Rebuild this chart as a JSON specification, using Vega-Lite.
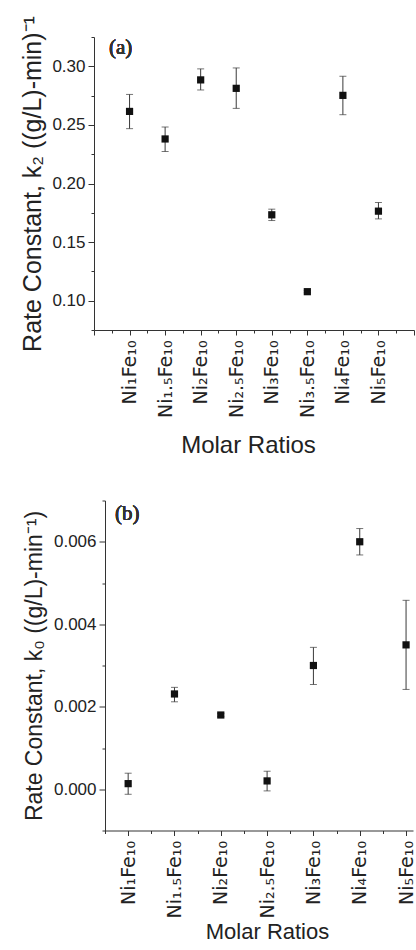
{
  "$schema": "https://vega.github.io/schema/vega-lite/v6.json",
  "padding": {"left": 20, "top": 15, "right": 0, "bottom": 0},
  "background": "white",
  "spacing": 41.5,
  "config": {
    "view": {"stroke": null},
    "axis": {
      "grid": false,
      "labelFont": "Liberation Sans",
      "titleFont": "Liberation Sans",
      "labelColor": "#222",
      "titleColor": "#222",
      "domainColor": "#333",
      "tickColor": "#333",
      "titleFontWeight": "normal",
      "labelFontSize": 17
    }
  },
  "datasets": {
    "k2": [
      {"ratio": 1, "sample": "Ni1Fe10", "k": 0.2615, "lo": 0.2468, "hi": 0.276},
      {"ratio": 2, "sample": "Ni1.5Fe10", "k": 0.238, "lo": 0.2273, "hi": 0.2482},
      {"ratio": 3, "sample": "Ni2Fe10", "k": 0.2884, "lo": 0.2798, "hi": 0.2978},
      {"ratio": 4, "sample": "Ni2.5Fe10", "k": 0.2812, "lo": 0.2641, "hi": 0.2986},
      {"ratio": 5, "sample": "Ni3Fe10", "k": 0.1733, "lo": 0.1684, "hi": 0.1781},
      {"ratio": 6, "sample": "Ni3.5Fe10", "k": 0.1077, "lo": 0.1068, "hi": 0.1086},
      {"ratio": 7, "sample": "Ni4Fe10", "k": 0.2752, "lo": 0.2587, "hi": 0.2915},
      {"ratio": 8, "sample": "Ni5Fe10", "k": 0.1764, "lo": 0.1698, "hi": 0.1838}
    ],
    "k0": [
      {"ratio": 1, "sample": "Ni1Fe10", "k": 0.000136, "lo": -0.000122, "hi": 0.000389},
      {"ratio": 2, "sample": "Ni1.5Fe10", "k": 0.00231, "lo": 0.00212, "hi": 0.00247},
      {"ratio": 3, "sample": "Ni2Fe10", "k": 0.0018, "lo": 0.00176, "hi": 0.00184},
      {"ratio": 4, "sample": "Ni2.5Fe10", "k": 0.000202, "lo": -0.00004, "hi": 0.000437},
      {"ratio": 5, "sample": "Ni3Fe10", "k": 0.003, "lo": 0.00254, "hi": 0.00344},
      {"ratio": 6, "sample": "Ni4Fe10", "k": 0.006, "lo": 0.00568, "hi": 0.00632},
      {"ratio": 7, "sample": "Ni5Fe10", "k": 0.0035, "lo": 0.00242, "hi": 0.00458}
    ]
  },
  "vconcat": [
    {
      "width": 309,
      "height": 293,
      "data": {"name": "k2"},
      "layer": [
        {
          "mark": {"type": "errorbar", "ticks": {"size": 7}, "color": "#3a3a3a", "thickness": 1},
          "encoding": {
            "x": {
              "field": "ratio", "type": "quantitative",
              "scale": {"domain": [0, 9], "range": [-11, 309], "nice": false},
              "axis": {"orient": "bottom", "values": [0.5, 1.5, 2.5, 3.5, 4.5, 5.5, 6.5, 7.5, 8.5], "labels": false, "domain": false, "tickSize": 3, "title": null}
            },
            "y": {
              "field": "lo", "type": "quantitative",
              "scale": {"domain": [0.075, 0.325], "zero": false, "nice": false},
              "axis": {"orient": "left", "values": [0.075, 0.125, 0.175, 0.225, 0.275, 0.325], "labels": false, "domain": false, "tickSize": 3, "title": null, "offset": 11}
            },
            "y2": {"field": "hi"}
          }
        },
        {
          "mark": {"type": "point", "shape": "square", "filled": true, "size": 52, "color": "#111", "opacity": 1},
          "encoding": {
            "x": {
              "field": "ratio", "type": "quantitative",
              "axis": {
                "orient": "bottom", "values": [0, 1, 2, 3, 4, 5, 6, 7, 8, 9],
                "labelExpr": "['', 'Ni₁Fe₁₀', 'Ni₁.₅Fe₁₀', 'Ni₂Fe₁₀', 'Ni₂.₅Fe₁₀', 'Ni₃Fe₁₀', 'Ni₃.₅Fe₁₀', 'Ni₄Fe₁₀', 'Ni₅Fe₁₀', ''][datum.value]",
                "labelAngle": 270, "labelAlign": "right", "labelBaseline": "middle",
                "labelFont": "DejaVu Sans", "labelFontSize": 19, "labelPadding": 5, "tickSize": 5,
                "title": "Molar Ratios", "titleFontSize": 24, "titlePadding": 16, "titleX": 143
              }
            },
            "y": {
              "field": "k", "type": "quantitative",
              "axis": {
                "orient": "left", "values": [0.1, 0.15, 0.2, 0.25, 0.3], "format": ".2f",
                "tickSize": 6, "labelPadding": 3, "offset": 11,
                "title": "Rate Constant, k₂ ((g/L)-min)⁻¹", "titleFontSize": 25, "titlePadding": 6.5
              }
            }
          }
        },
        {
          "mark": {"type": "text", "text": "(a)", "font": "Liberation Serif", "fontSize": 21, "fontWeight": "normal", "align": "left", "baseline": "middle", "color": "#333"},
          "encoding": {
            "x": {"datum": 0.42, "type": "quantitative", "axis": null},
            "y": {"datum": 0.316, "type": "quantitative", "axis": null}
          }
        }
      ],
      "resolve": {"axis": {"x": "independent", "y": "independent"}}
    },
    {
      "width": 308,
      "height": 330,
      "data": {"name": "k0"},
      "layer": [
        {
          "mark": {"type": "errorbar", "ticks": {"size": 7}, "color": "#3a3a3a", "thickness": 1},
          "encoding": {
            "x": {
              "field": "ratio", "type": "quantitative",
              "scale": {"domain": [0.5, 7.15], "nice": false},
              "axis": {"orient": "bottom", "values": [0.5, 1.5, 2.5, 3.5, 4.5, 5.5, 6.5], "labels": false, "domain": false, "tickSize": 3, "title": null}
            },
            "y": {
              "field": "lo", "type": "quantitative",
              "scale": {"domain": [-0.001, 0.007], "zero": false, "nice": false},
              "axis": {"orient": "left", "values": [-0.001, 0.001, 0.003, 0.005, 0.007], "labels": false, "domain": false, "tickSize": 3, "title": null}
            },
            "y2": {"field": "hi"}
          }
        },
        {
          "mark": {"type": "point", "shape": "square", "filled": true, "size": 52, "color": "#111", "opacity": 1},
          "encoding": {
            "x": {
              "field": "ratio", "type": "quantitative",
              "axis": {
                "orient": "bottom", "values": [1, 2, 3, 4, 5, 6, 7],
                "labelExpr": "['', 'Ni₁Fe₁₀', 'Ni₁.₅Fe₁₀', 'Ni₂Fe₁₀', 'Ni₂.₅Fe₁₀', 'Ni₃Fe₁₀', 'Ni₄Fe₁₀', 'Ni₅Fe₁₀'][datum.value]",
                "labelAngle": 270, "labelAlign": "right", "labelBaseline": "middle",
                "labelFont": "DejaVu Sans", "labelFontSize": 19, "labelPadding": 5, "tickSize": 5,
                "title": "Molar Ratios", "titleFontSize": 22, "titlePadding": 3, "titleX": 162
              }
            },
            "y": {
              "field": "k", "type": "quantitative",
              "axis": {
                "orient": "left", "values": [0, 0.002, 0.004, 0.006], "format": ".3f",
                "tickSize": 6, "labelPadding": 3,
                "title": "Rate Constant, k₀ ((g/L)-min⁻¹)", "titleFontSize": 23, "titlePadding": 6.5
              }
            }
          }
        },
        {
          "mark": {"type": "text", "text": "(b)", "font": "Liberation Serif", "fontSize": 21, "fontWeight": "normal", "align": "left", "baseline": "middle", "color": "#333"},
          "encoding": {
            "x": {"datum": 0.716, "type": "quantitative", "axis": null},
            "y": {"datum": 0.00667, "type": "quantitative", "axis": null}
          }
        }
      ],
      "resolve": {"axis": {"x": "independent", "y": "independent"}}
    }
  ]
}
